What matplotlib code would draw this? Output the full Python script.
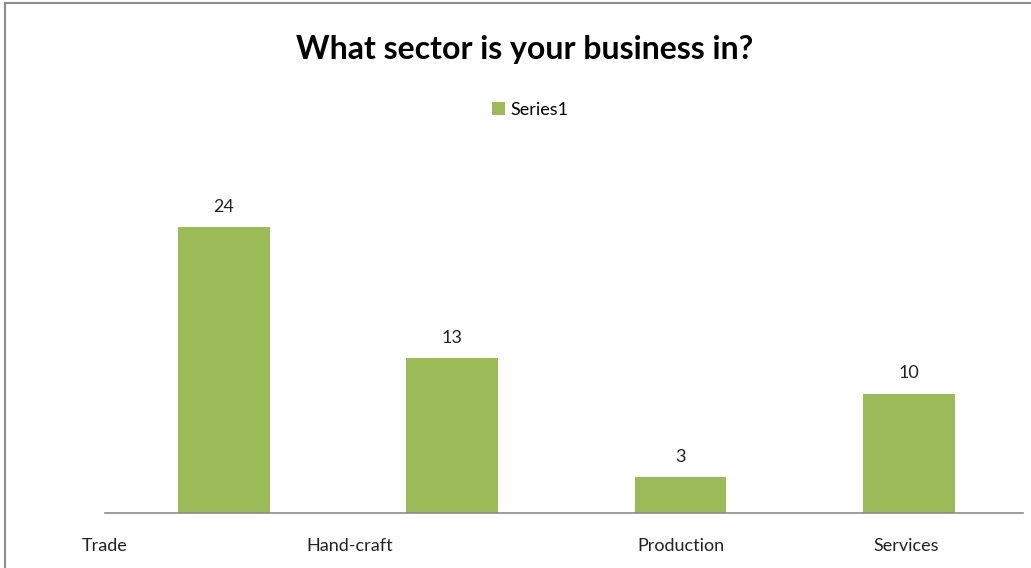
import matplotlib.pyplot as plt
from matplotlib.patches import Rectangle

categories = ["Trade", "Hand-craft", "Production", "Services"]
counts = [24, 13, 3, 10]
series_name = "Series1"

# where the category captions sit along the x axis (category units)
label_pos = [-0.52, 0.55, 2.0, 2.99]

green = "#9BBB59"
plt.rcParams['font.family'] = ['Lato', 'DejaVu Sans']

fig = plt.figure(figsize=(10.31, 5.68), dpi=100)
ax = fig.add_axes([105 / 1031, 55 / 568, 918 / 1031, 357 / 568])

x = list(range(len(categories)))
bars = ax.bar(x, counts, width=0.402, color=green, label=series_name)
ax.bar_label(bars, labels=[str(c) for c in counts], padding=9, fontsize=13, color="#222222")

ax.set_xlim(-0.5, len(categories) - 0.5)
ax.set_ylim(0, 30)
ax.set_xticks(label_pos)
ax.set_xticklabels(categories, fontsize=13, color="#222222")
ax.tick_params(axis='x', length=0, pad=18)
ax.set_yticks([])
for side in ("left", "right", "top"):
    ax.spines[side].set_visible(False)
ax.spines["bottom"].set_color("#8c8c8c")
ax.spines["bottom"].set_linewidth(1.2)

fig.text(525 / 1031, 1 - 50 / 568, "What sector is your business in?",
         ha="center", va="center", fontsize=23, fontweight="bold")
fig.legend(loc="center", bbox_to_anchor=(530 / 1031, 1 - 110 / 568), frameon=False,
           fontsize=13, handlelength=0.7, handleheight=0.7, handletextpad=0.3)

# outer chart frame
fig.patches.append(Rectangle((5 / 1031, -0.1), 1.2, 1 - 3 / 568 + 0.1, transform=fig.transFigure,
                             fill=False, edgecolor="#8c8c8c", linewidth=1.5))

fig.savefig("out.png", dpi=100)
